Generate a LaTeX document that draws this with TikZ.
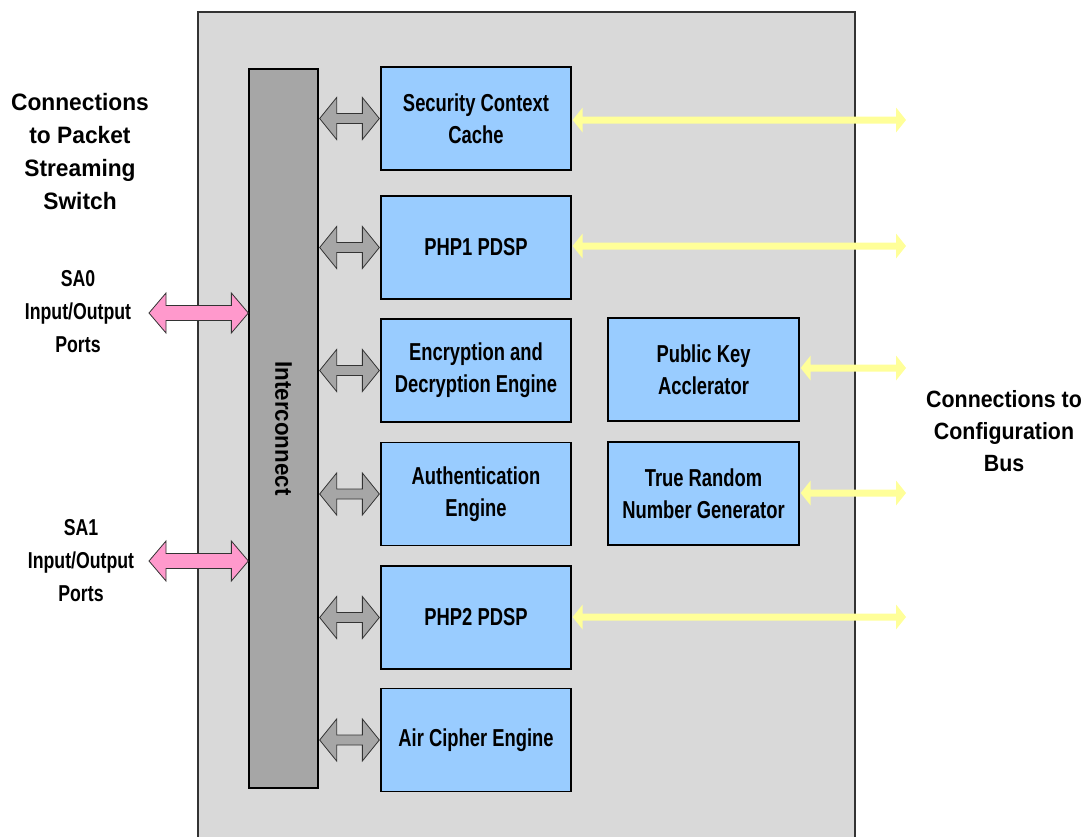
\documentclass[tikz,border=0pt]{standalone}
\usepackage{fontspec}
\setmainfont{Liberation Sans}
\newfontfamily\bxbox{Liberation Sans Bold}[FakeStretch=0.75]
\newfontfamily\bxsa{Liberation Sans Bold}[FakeStretch=0.77]
\newfontfamily\bxic{Liberation Sans Bold}[FakeStretch=0.93]
\newfontfamily\bxlab{Liberation Sans Bold}[FakeStretch=0.96]
\newfontfamily\bxcfg{Liberation Sans Bold}[FakeStretch=0.91]
\usetikzlibrary{calc}
\definecolor{outerfill}{HTML}{D9D9D9}
\definecolor{icfill}{HTML}{A6A6A6}
\definecolor{blockblue}{HTML}{99CCFF}
\definecolor{pinkarrow}{HTML}{FF99CC}
\definecolor{yellowarrow}{HTML}{FFFF99}
\definecolor{grayarrow}{HTML}{A6A6A6}
\newcommand\blockarrow[6]{%
  \path[#6] (#1) -- ($(#1)+(#3,#4)$) -- ($(#1)+(#3,#5)$) -- ($(#2)+(-#3,#5)$)
    -- ($(#2)+(-#3,#4)$) -- (#2) -- ($(#2)+(-#3,-#4)$) -- ($(#2)+(-#3,-#5)$)
    -- ($(#1)+(#3,-#5)$) -- ($(#1)+(#3,-#4)$) -- cycle;}
\tikzset{
  block/.style={draw=black, line width=1.3pt, fill=blockblue, minimum width=190pt,
    minimum height=103pt, inner sep=0pt, align=center,
    font=\bxbox\fontsize{24.5}{32}\selectfont},
  lab/.style={align=center, inner sep=0pt, font=\bxlab\fontsize{23.7}{33}\selectfont},
  salab/.style={align=center, inner sep=0pt, font=\bxsa\fontsize{23}{33}\selectfont},
  garrow/.style={draw=black!80, line width=0.8pt, fill=grayarrow},
  parrow/.style={draw=black!80, line width=0.8pt, fill=pinkarrow},
  yarrow/.style={fill=yellowarrow},
}
\begin{document}
\begin{tikzpicture}[x=1pt, y=-1pt]
\useasboundingbox (0,0) rectangle (1089,836);
% outer frame
\draw[fill=outerfill, draw=black!80, line width=1.8pt] (198,850) -- (198,12) -- (855,12) -- (855,850);
% interconnect
\node[draw=black, line width=1.3pt, fill=icfill, minimum width=69pt, minimum height=719pt, inner sep=0pt]
  (ic) at (283.5,428.5) {};
\node[rotate=-90, font=\bxic\fontsize{24}{30}\selectfont] (ictext) at (ic.center) {Interconnect};
% blocks
\node[block] (scc) at (476,118.5) {Security Context\\Cache};
\node[block] (php1) at (476,247.5) {PHP1 PDSP};
\node[block] (enc) at (476,370.5) {Encryption and\\Decryption Engine};
\node[block] (auth) at (476,494) {Authentication\\Engine};
\node[block] (php2) at (476,617.5) {PHP2 PDSP};
\node[block] (air) at (476,740) {Air Cipher Engine};
\node[block, minimum width=191pt] (pka) at (703.5,369.5) {Public Key\\Acclerator};
\node[block, minimum width=191pt] (trng) at (703.5,493.5) {True Random\\Number Generator};
% gray arrows
\foreach \b in {scc,php1,enc,auth,php2,air}{
  \coordinate (gl-\b) at ($(ic.east |- \b.center)+(1,0)$);
  \coordinate (gr-\b) at ($(\b.west)+(-1,0)$);
  \blockarrow{gl-\b}{gr-\b}{17}{21}{5}{garrow}
}
% labels
\node[lab] (pss) at (80,151.5) {Connections\\to Packet\\Streaming\\Switch};
\node[salab] (sa0) at (78,312) {SA0\\Input/Output\\Ports};
\node[salab] (sa1) at (81,561) {SA1\\Input/Output\\Ports};
\node[lab, font=\bxcfg\fontsize{23.5}{32}\selectfont] (cfg) at (1004,431) {Connections to\\Configuration\\Bus};
% pink arrows
\coordinate (p0l) at (149,313);
\coordinate (p0r) at (ic.west |- p0l);
\blockarrow{p0l}{p0r}{17}{20}{7.5}{parrow}
\coordinate (p1l) at (149,561);
\coordinate (p1r) at (ic.west |- p1l);
\blockarrow{p1l}{p1r}{17}{20}{7.5}{parrow}
% yellow arrows
\foreach \b/\yy in {scc/120,php1/246,php2/617,pka/368,trng/493}{
  \coordinate (yl-\b) at ($(\b.east)+(1,0)$);
  \coordinate (yl-\b) at (yl-\b |- 0,\yy);
  \coordinate (yr-\b) at (906,\yy);
  \blockarrow{yl-\b}{yr-\b}{10}{12.5}{3.5}{yarrow}
}
\end{tikzpicture}
\end{document}
